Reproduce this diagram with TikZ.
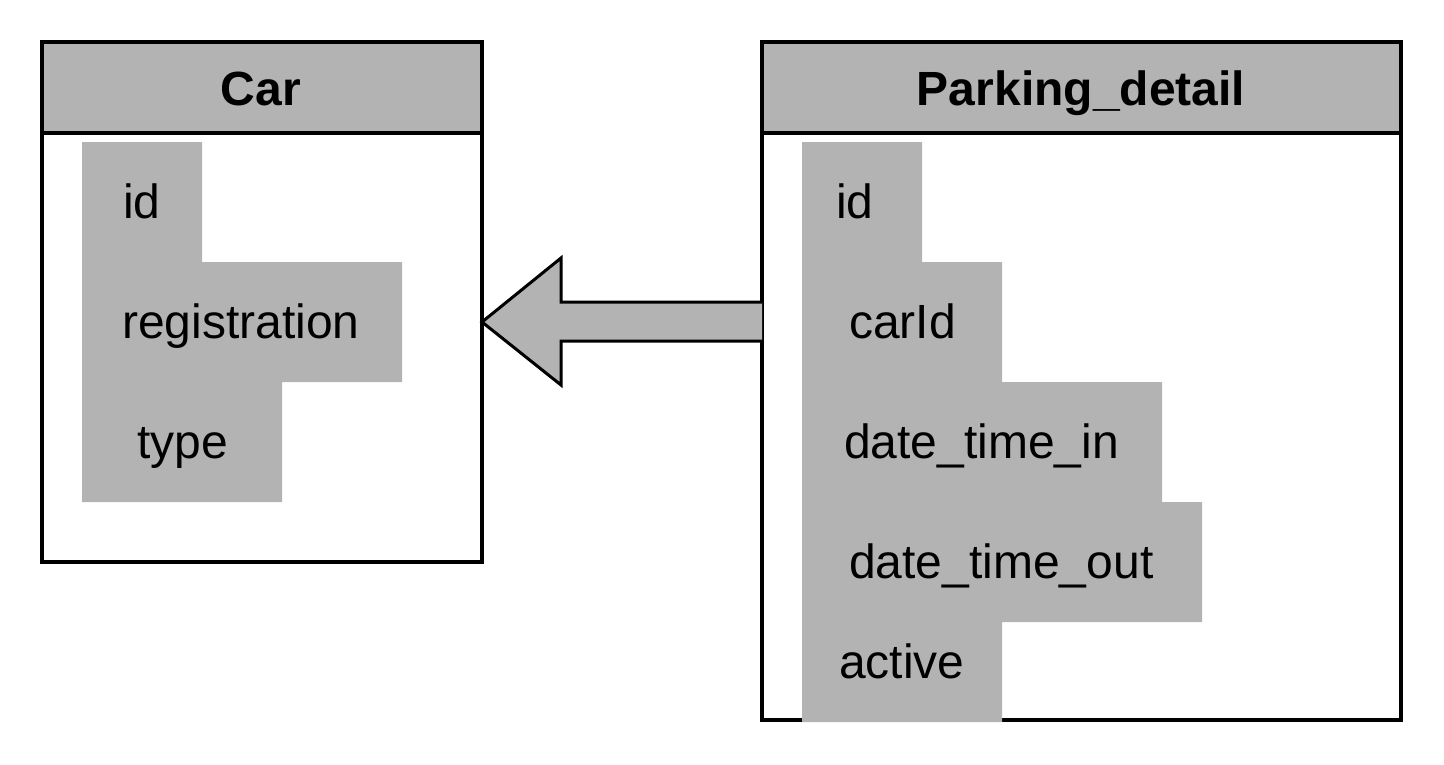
\documentclass[tikz,border=0pt]{standalone}
\usepackage{fontspec}
\setmainfont{Liberation Sans}
\usetikzlibrary{calc}
\definecolor{fieldgray}{HTML}{B3B3B3}
\begin{document}
\begin{tikzpicture}[x=1pt,y=-1pt,
  boxline/.style={draw=black,line width=4pt},
  fieldbg/.style={fill=fieldgray},
  lbl/.style={anchor=base west,inner sep=0pt,font=\fontsize{48}{56}\selectfont},
  ttl/.style={anchor=base,inner sep=0pt,font=\fontsize{48}{56}\selectfont\bfseries}]
\useasboundingbox (0,0) rectangle (1444,764);
% Car table
\fill[fieldgray] (42,42) rectangle (482,133);
\draw[boxline] (42,42) rectangle (482,562);
\draw[boxline] (42,133) -- (482,133);
\fill[fieldgray] (82,142) -- (202,142) -- (202,262) -- (402,262) -- (402,382) -- (282,382) -- (282,502) -- (82,502) -- cycle;
\node[ttl] (cartitle) at (261,105) {Car};
\node[lbl] (carid) at (123,218) {id};
\node[lbl] (carreg) at (122,338) {registration};
\node[lbl] (cartype) at (137,458) {type};
\coordinate (carright) at (482,322);
% Parking_detail table
\fill[fieldgray] (762,42) rectangle (1401,133);
\draw[boxline] (762,42) rectangle (1401,720);
\draw[boxline] (762,133) -- (1401,133);
\fill[fieldgray] (802,142) -- (922,142) -- (922,262) -- (1002,262) -- (1002,382) -- (1162,382) -- (1162,502) -- (1202,502) -- (1202,622) -- (1002,622) -- (1002,722) -- (802,722) -- cycle;
\node[ttl] (pdtitle) at (1081,105) {Parking\_detail};
\node[lbl] (pdid) at (836,218) {id};
\node[lbl] (pdcar) at (849,338) {carId};
\node[lbl] (pdin) at (844,458) {date\_time\_in};
\node[lbl] (pdout) at (849,578) {date\_time\_out};
\node[lbl] (pdact) at (839,678) {active};
\coordinate (pdleft) at (762,322);
% block arrow
\draw[line width=3pt,fill=fieldgray,line join=miter]
  ($(pdleft)+(0,-20)$) -- (561,302) -- (561,258) -- (carright) -- (561,385) -- (561,341) -- ($(pdleft)+(0,19)$);
\end{tikzpicture}
\end{document}
